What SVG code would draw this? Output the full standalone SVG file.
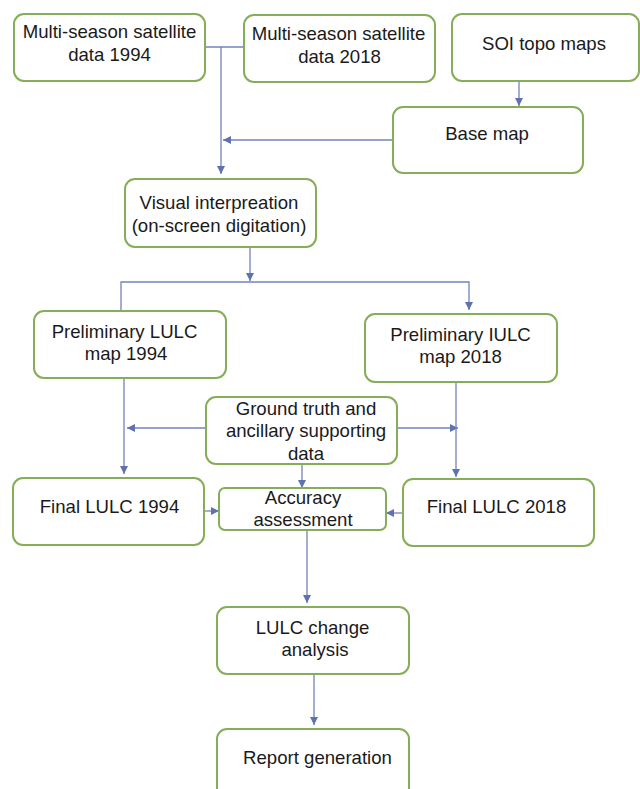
<svg xmlns="http://www.w3.org/2000/svg" width="640" height="789" viewBox="0 0 640 789">
<defs>
<marker id="ah" viewBox="0 0 8 8" refX="8" refY="4" markerWidth="8" markerHeight="8" markerUnits="userSpaceOnUse" orient="auto">
<path d="M0,0 L8,4 L0,8 Z" fill="#5f72b0"/>
</marker>
<style>
.box{fill:#ffffff;stroke:#86ad58;stroke-width:2}
.t{font-family:"Liberation Sans",Arial,sans-serif;font-size:18.6px;fill:#1a1a1a;text-anchor:middle}
.c{fill:none;stroke:#7283ba;stroke-width:1.3}
.a{marker-end:url(#ah)}
</style>
</defs>
<rect width="640" height="789" fill="#ffffff"/>
<g id="connectors">
<path class="c" d="M205,47 H244"/>
<path class="c a" d="M221,47 V174"/>
<path class="c a" d="M393,140 H223"/>
<path class="c a" d="M519,81 V106"/>
<path class="c a" d="M250,247 V281"/>
<path class="c a" d="M121,310 V282 H469 V310"/>
<path class="c a" d="M124,378 V474"/>
<path class="c a" d="M206,428 H127"/>
<path class="c a" d="M397,428 H458"/>
<path class="c a" d="M456,382 V477"/>
<path class="c a" d="M302,464 V488"/>
<path class="c a" d="M204,511 H219"/>
<path class="c a" d="M403,513 H386"/>
<path class="c a" d="M307,530 V603"/>
<path class="c a" d="M314,674 V725"/>
</g>
<g id="n1"><rect class="box" x="14" y="14" width="191" height="67" rx="10"/><text class="t" x="109.5" y="38">Multi-season satellite</text><text class="t" x="109.5" y="61">data 1994</text></g>
<g id="n2"><rect class="box" x="244" y="15" width="191" height="67" rx="10"/><text class="t" x="338.5" y="40">Multi-season satellite</text><text class="t" x="339.5" y="63">data 2018</text></g>
<g id="n3"><rect class="box" x="452" y="14" width="187" height="67" rx="10"/><text class="t" x="544" y="50">SOI topo maps</text></g>
<g id="n4"><rect class="box" x="393" y="107" width="190" height="66" rx="10"/><text class="t" x="487" y="140">Base map</text></g>
<g id="n5"><rect class="box" x="125" y="179" width="191" height="68" rx="10"/><text class="t" x="219" y="209">Visual interpreation</text><text class="t" x="219" y="232">(on-screen digitation)</text></g>
<g id="n6"><rect class="box" x="34" y="311" width="192" height="67" rx="10"/><text class="t" x="124.5" y="338">Preliminary LULC</text><text class="t" x="126" y="360">map 1994</text></g>
<g id="n7"><rect class="box" x="365" y="314" width="192" height="68" rx="10"/><text class="t" x="460.5" y="341">Preliminary IULC</text><text class="t" x="460.5" y="363">map 2018</text></g>
<g id="n8"><rect class="box" x="206" y="397" width="191" height="67" rx="10"/><text class="t" x="306" y="415">Ground truth and</text><text class="t" x="306" y="437">ancillary supporting</text><text class="t" x="306" y="460">data</text></g>
<g id="n9"><rect class="box" x="13" y="478" width="191" height="67" rx="10"/><text class="t" x="109.5" y="513">Final LULC 1994</text></g>
<g id="n10"><rect class="box" x="219" y="488" width="167" height="42" rx="6"/><text class="t" x="303" y="504">Accuracy</text><text class="t" x="303" y="526">assessment</text></g>
<g id="n11"><rect class="box" x="403" y="479" width="191" height="67" rx="10"/><text class="t" x="496.5" y="513">Final LULC 2018</text></g>
<g id="n12"><rect class="box" x="217" y="607" width="192" height="67" rx="10"/><text class="t" x="312.5" y="634">LULC change</text><text class="t" x="315" y="656">analysis</text></g>
<g id="n13"><rect class="box" x="217" y="729" width="192" height="80" rx="10"/><text class="t" x="317.5" y="764">Report generation</text></g>
</svg>
